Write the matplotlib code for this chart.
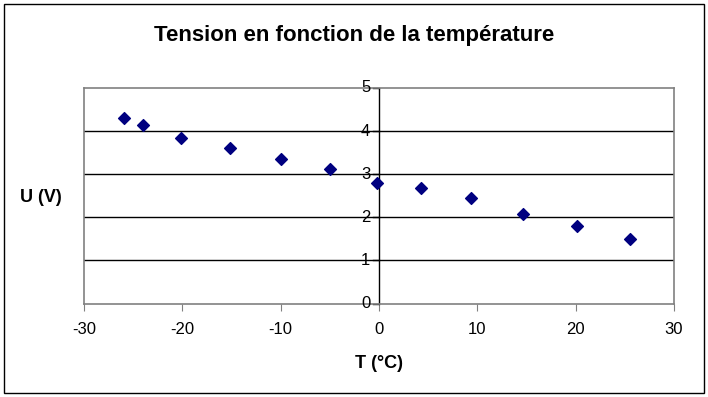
import matplotlib
matplotlib.use("Agg")
import matplotlib.pyplot as plt
from matplotlib.patches import Rectangle

plt.rcParams["font.family"] = ["Liberation Sans", "DejaVu Sans"]

# data
temp_c = [-25.9, -24.0, -20.1, -15.2, -10.0, -5.0, -0.2, 4.3, 9.4, 14.6, 20.1, 25.5]
tension_v = [4.31, 4.15, 3.84, 3.61, 3.35, 3.12, 2.80, 2.69, 2.45, 2.07, 1.80, 1.49]
x_ticks = [-30, -20, -10, 0, 10, 20, 30]
y_ticks = [0, 1, 2, 3, 4, 5]

fig = plt.figure(figsize=(7.08, 3.97), dpi=100)
fig.patches.append(Rectangle((4/708, 4/397), 700/708, 389/397, transform=fig.transFigure,
                             fill=False, edgecolor="black", linewidth=1))

ax = fig.add_axes([84/708, 1 - 303.5/397, 590/708, 215.5/397])
ax.set_xlim(-30, 30); ax.set_ylim(0, 5)

for y in y_ticks[1:-1]:
    ax.axhline(y, color="black", linewidth=1, zorder=1)

ax.scatter(temp_c, tension_v, marker="D", s=36, color="#000080", zorder=3)

for side in ["top", "bottom", "left", "right"]:
    ax.spines[side].set_color("#808080")
    ax.spines[side].set_linewidth(1.2)

# y axis through x = 0
ax.axvline(0, color="black", linewidth=1, zorder=2)
for y in y_ticks:
    ax.plot([-0.6, 0], [y, y], color="black", linewidth=1, clip_on=False, zorder=2)
    ax.text(-0.9, y, str(y), ha="right", va="center", fontsize=12)

ax.set_xticks(x_ticks)
ax.set_xticklabels([str(t) for t in x_ticks], fontsize=12)
ax.tick_params(axis="x", length=5, color="#808080", pad=8)
ax.set_yticks([])

fig.text(379/708, 1 - 363/397, "T (°C)", fontsize=13, fontweight="bold", ha="center", va="center")
fig.text(41/708, 1 - 197/397, "U (V)", fontsize=13, fontweight="bold", ha="center", va="center")
fig.text(354/708, 1 - 36/397, "Tension en fonction de la température", fontsize=16,
         fontweight="bold", ha="center", va="center")

fig.savefig("out.png", dpi=100)
